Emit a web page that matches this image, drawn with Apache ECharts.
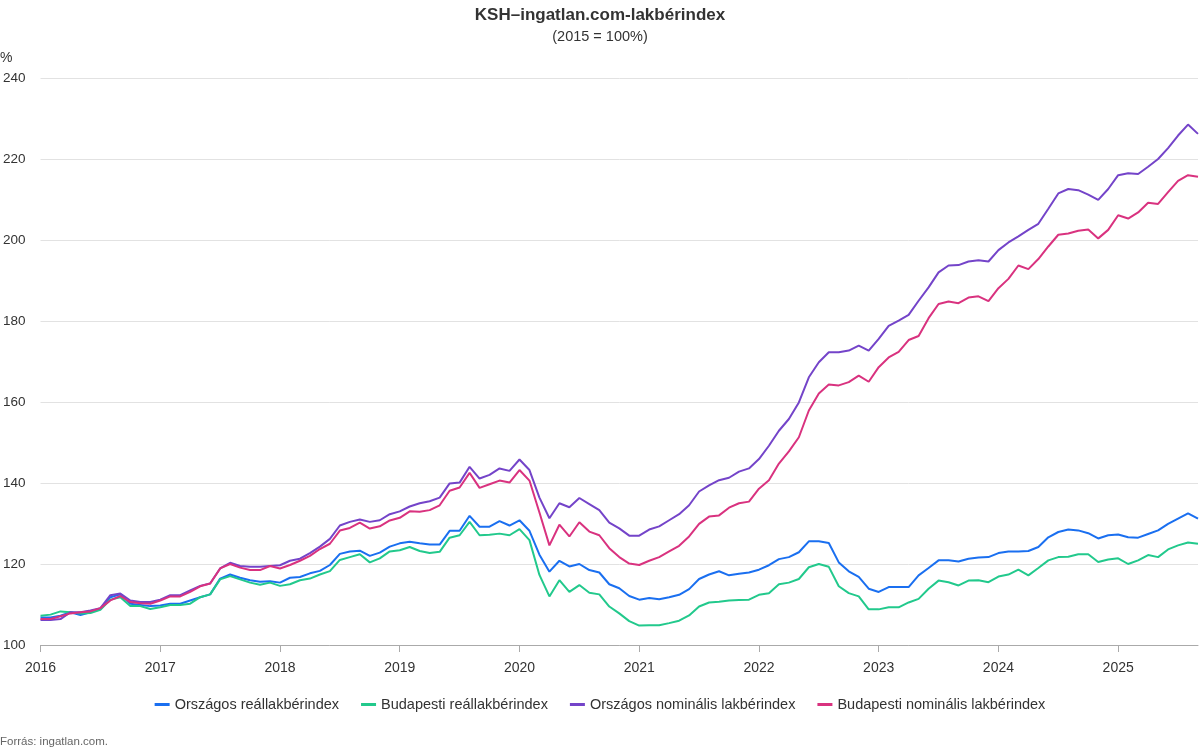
<!DOCTYPE html>
<html>
<head>
<meta charset="utf-8">
<script src="https://cdn.jsdelivr.net/npm/echarts@6/dist/echarts.min.js"></script>
<style>
html,body{margin:0;padding:0;background:#fff;}
#chart{width:1200px;height:750px;}
</style>
</head>
<body>
<div id="chart"></div>
<script>
// Months 2016-01 .. 2025-09
const months = [];
for (let y = 2016; y <= 2025; y++) {
  for (let m = 1; m <= 12; m++) {
    if (y === 2025 && m > 9) break;
    months.push(y + '-' + (m < 10 ? '0' + m : m));
  }
}

const seriesNames = [
  'Országos reállakbérindex',
  'Budapesti reállakbérindex',
  'Országos nominális lakbérindex',
  'Budapesti nominális lakbérindex'
];

const orszagosReal = [
  106.8,106.8,107.25,108.1,107.4,108.1,108.9,111.8,112.5,110.2,109.9,109.6,
  109.75,110.2,110.2,111.0,111.8,112.5,116.4,117.4,116.6,116.0,115.6,115.75,
  115.4,116.6,116.8,117.7,118.3,119.75,122.5,123.1,123.3,122.0,122.8,124.3,
  125.1,125.5,125.1,124.8,124.8,128.2,128.2,131.9,129.2,129.2,130.6,129.5,
  130.8,128.2,122.3,118.1,120.8,119.4,120.0,118.5,117.9,115.0,114.0,112.1,
  111.2,111.6,111.3,111.8,112.4,113.8,116.3,117.4,118.2,117.2,117.6,117.9,
  118.6,119.7,121.2,121.7,122.9,125.6,125.6,125.2,120.4,118.2,116.8,113.9,
  113.1,114.3,114.3,114.3,117.2,119.0,120.9,120.9,120.6,121.3,121.6,121.7,
  122.7,123.1,123.1,123.2,124.2,126.6,127.9,128.5,128.3,127.6,126.3,127.1,
  127.3,126.6,126.5,127.4,128.3,129.9,131.2,132.5,131.2
];

const budapestiReal = [
  107.25,107.5,108.3,108.1,107.8,107.9,108.7,111.2,111.8,109.6,109.6,108.9,
  109.3,109.9,109.9,110.2,111.8,112.5,116.2,117.0,116.2,115.4,114.9,115.4,
  114.6,115.0,116.0,116.4,117.4,118.25,121.0,121.7,122.4,120.4,121.4,123.1,
  123.4,124.2,123.2,122.7,123.0,126.5,127.1,130.4,127.1,127.2,127.5,127.1,
  128.6,125.9,117.3,112.0,116.0,113.1,114.8,112.9,112.5,109.5,107.8,105.9,
  104.8,104.9,104.9,105.4,106.0,107.3,109.5,110.5,110.7,111.0,111.1,111.2,
  112.4,112.8,115.0,115.4,116.3,119.2,120.0,119.3,114.5,112.8,112.0,108.8,
  108.8,109.3,109.3,110.5,111.4,113.9,115.9,115.5,114.7,115.9,116.0,115.5,
  116.9,117.4,118.6,117.2,119.0,120.9,121.7,121.8,122.4,122.4,120.5,121.1,
  121.4,120.0,120.9,122.2,121.7,123.6,124.6,125.3,125.0
];

const orszagosNom = [
  106.2,106.2,106.4,108.1,108.1,108.5,109.1,112.3,112.7,111.0,110.6,110.6,
  111.2,112.3,112.3,113.5,114.6,115.2,118.9,120.3,119.5,119.3,119.3,119.5,
  119.7,120.8,121.3,122.7,124.3,126.2,129.5,130.4,131.0,130.4,130.8,132.3,
  133.0,134.2,135.0,135.5,136.4,139.9,140.1,144.0,141.1,142.0,143.6,143.0,
  145.8,143.2,136.4,131.3,135.0,134.0,136.3,134.8,133.3,130.2,128.8,127.0,
  127.0,128.5,129.3,130.8,132.3,134.5,137.9,139.4,140.7,141.3,142.8,143.6,
  145.9,149.2,152.9,155.8,159.9,166.1,169.8,172.3,172.3,172.7,173.9,172.7,
  175.6,178.8,180.1,181.5,185.0,188.3,192.0,193.7,193.8,194.7,195.0,194.7,
  197.5,199.4,200.9,202.5,204.0,207.7,211.5,212.6,212.3,211.2,209.9,212.6,
  216.0,216.5,216.3,218.1,220.0,222.7,225.8,228.5,226.2
];

const budapestiNom = [
  106.4,106.4,107.1,107.8,108.1,108.3,109.1,111.0,112.1,110.6,110.3,110.2,
  111.0,112.0,112.0,113.1,114.5,115.2,118.9,120.0,119.1,118.5,118.5,119.5,
  118.9,119.75,120.8,122.0,123.7,125.0,128.25,128.9,130.2,128.75,129.3,130.75,
  131.4,133.0,132.9,133.3,134.5,138.1,138.9,142.5,138.8,139.7,140.6,140.1,
  143.2,140.6,132.7,124.6,129.7,126.8,130.3,128.0,127.1,123.9,121.7,120.1,
  119.75,120.8,121.7,123.1,124.5,126.8,129.9,131.7,132.0,133.9,135.0,135.4,
  138.6,140.7,144.8,147.8,151.3,157.9,162.1,164.3,164.1,164.9,166.5,165.0,
  168.6,171.0,172.4,175.3,176.3,180.7,184.2,184.8,184.4,185.8,186.1,184.9,
  188.1,190.4,193.7,192.8,195.3,198.4,201.3,201.6,202.3,202.6,200.4,202.5,
  206.1,205.3,206.8,209.2,208.9,211.8,214.6,216.0,215.6
];

const colors = ['#1a6ff0', '#22c98c', '#7444c9', '#d9327f'];
const allData = [orszagosReal, budapestiReal, orszagosNom, budapestiNom];

const chart = echarts.init(document.getElementById('chart'), null, {renderer: 'canvas'});
const FONT = '"Liberation Sans", Arial, sans-serif';

chart.setOption({
  animation: false,
  textStyle: {fontFamily: FONT},
  color: colors,
  title: [
    {
      text: 'KSH–ingatlan.com-lakbérindex',
      subtext: '(2015 = 100%)',
      left: 'center',
      top: 2,
      itemGap: 5,
      textStyle: {fontFamily: FONT, fontSize: 17, fontWeight: 'bold', color: '#333'},
      subtextStyle: {fontFamily: FONT, fontSize: 14.5, color: '#333'}
    },
    {
      text: '%',
      left: 0,
      top: 51,
      padding: 0,
      textStyle: {fontFamily: FONT, fontSize: 14, fontWeight: 'normal', color: '#333'}
    },
    {
      text: 'Forrás: ingatlan.com.',
      left: 0,
      top: 736,
      padding: 0,
      textStyle: {fontFamily: FONT, fontSize: 11.5, fontWeight: 'normal', color: '#666'}
    }
  ],
  legend: {
    top: 692,
    left: 'center',
    icon: 'rect',
    itemWidth: 15,
    itemHeight: 3,
    itemGap: 22,
    textStyle: {fontFamily: FONT, fontSize: 14.5, color: '#333'},
    data: seriesNames
  },
  grid: {left: 38, right: 2, top: 78, bottom: 105, containLabel: false},
  xAxis: {
    type: 'category',
    boundaryGap: false,
    data: months,
    axisLine: {lineStyle: {color: '#aaa', width: 1}},
    axisTick: {
      alignWithLabel: true,
      length: 7,
      interval: function (i) { return i % 12 === 0; },
      lineStyle: {color: '#aaa'}
    },
    axisLabel: {
      interval: function (i) { return i % 12 === 0; },
      formatter: function (v) { return v.slice(0, 4); },
      margin: 16,
      fontSize: 14,
      color: '#333',
      fontFamily: FONT
    },
    splitLine: {show: false}
  },
  yAxis: {
    type: 'value',
    min: 100,
    max: 240,
    interval: 20,
    axisLine: {show: false},
    axisTick: {show: false},
    axisLabel: {fontSize: 13.5, color: '#333', margin: 15, fontFamily: FONT},
    splitLine: {lineStyle: {color: '#e2e2e2', width: 1}}
  },
  series: seriesNames.map(function (name, i) {
    return {
      name: name,
      type: 'line',
      data: allData[i],
      showSymbol: false,
      symbol: 'none',
      lineStyle: {width: 2, color: colors[i]},
      itemStyle: {color: colors[i]}
    };
  })
});
</script>
</body>
</html>
